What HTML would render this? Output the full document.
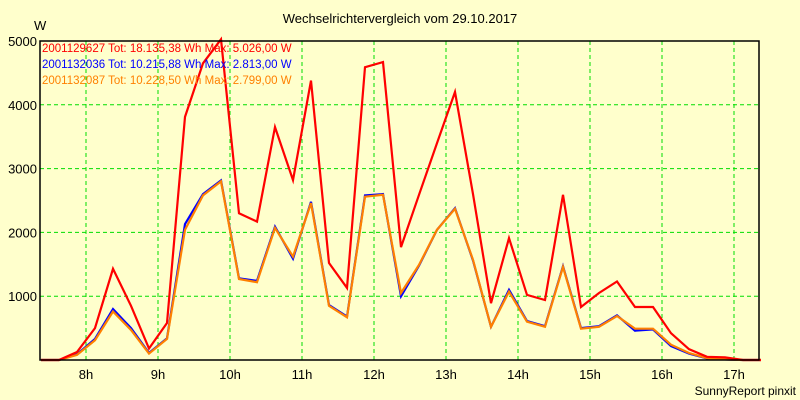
<!DOCTYPE html>
<html><head><meta charset="utf-8"><style>
body{margin:0;background:#ffffcc;}
svg{display:block;font-family:"Liberation Sans",sans-serif;}
</style></head><body>
<svg id="chart" width="800" height="400" viewBox="0 0 800 400">
<rect x="0" y="0" width="800" height="400" fill="#ffffcc"/>
<text x="400" y="23" font-size="13" text-anchor="middle" fill="#000">Wechselrichtervergleich vom 29.10.2017</text>
<text x="34" y="30" font-size="13" fill="#000">W</text>
<text x="796" y="395" font-size="12" text-anchor="end" fill="#000">SunnyReport pinxit</text>
<g id="grid"></g>
<g id="ticks"></g>
<g id="series"></g>
<rect x="40" y="41" width="719" height="319" fill="none" stroke="#000" stroke-width="1.5"/>
<g font-size="11.5">
<text x="42" y="52" fill="#ff0000">2001129627 Tot: 18.135,38 Wh Max: 5.026,00 W</text>
<text x="42" y="68" fill="#0000ff">2001132036 Tot: 10.215,88 Wh Max: 2.813,00 W</text>
<text x="42" y="84" fill="#ff8000">2001132087 Tot: 10.228,50 Wh Max: 2.799,00 W</text>
</g>
</svg>
<script>
const hourTicks = [8,9,10,11,12,13,14,15,16,17];
const yTicks = [1000,2000,3000,4000,5000];
const startHour = 7.375;
const stepHours = 0.25;
const redValues = [0,0,125,500,1430,850,180,580,3810,4650,5026,2300,2170,3650,2820,4380,1520,1130,4590,4670,1770,2590,3400,4200,2600,890,1910,1020,940,2590,830,1050,1230,830,830,420,170,50,40,0,0];
const blueValues = [0,0,90,330,800,500,110,340,2130,2600,2813,1280,1240,2090,1590,2480,860,680,2580,2600,1000,1480,2040,2380,1560,520,1100,610,530,1470,500,530,700,460,480,220,100,25,10,0,0];
const orangeValues = [0,0,80,310,760,470,100,330,2040,2580,2799,1270,1220,2070,1620,2460,850,670,2560,2590,1050,1490,2040,2370,1570,520,1070,600,520,1460,490,520,690,490,490,240,110,30,10,0,0];

const L=40,R=759,T=41,B=360;
const xOf = h => 86 + (h-8)*72;
const yOf = v => B - v*(B-T)/5000;
const NS="http://www.w3.org/2000/svg";
const grid=document.getElementById('grid'), ticks=document.getElementById('ticks'), series=document.getElementById('series');
function mk(tag, attrs){const e=document.createElementNS(NS,tag);for(const k in attrs)e.setAttribute(k,attrs[k]);return e;}
hourTicks.forEach(h=>{
  const x=xOf(h);
  const g=mk('line',{x1:x,x2:x,y1:T,y2:B,stroke:'#00dd00','stroke-width':1,'stroke-dasharray':'4,3'});
  
  
  grid.appendChild(g);
  const t=mk('text',{x:x,y:379,'font-size':13,'text-anchor':'middle',fill:'#000'});
  t.textContent=h+'h';
  
  
  ticks.appendChild(t);
});
yTicks.forEach(v=>{
  const y=yOf(v);
  const g=mk('line',{x1:L,x2:R,y1:y,y2:y,stroke:'#00dd00','stroke-width':1,'stroke-dasharray':'4,3'});
  
  
  grid.appendChild(g);
  const t=mk('text',{x:37,y:y+5,'font-size':13,'text-anchor':'end',fill:'#000'});
  t.textContent=v;
  
  
  ticks.appendChild(t);
});
function drawLine(vals,color,name){
  const pts=vals.map((v,i)=>xOf(startHour+i*stepHours).toFixed(1)+','+yOf(v).toFixed(1)).join(' ');
  const p=mk('polyline',{points:pts,fill:'none',stroke:color,'stroke-width':2.2,'stroke-linejoin':'miter'});
  
  
  series.appendChild(p);
}
drawLine(blueValues,'#0000ff','line-2001132036');
drawLine(orangeValues,'#ff8000','line-2001132087');
drawLine(redValues,'#ff0000','line-2001129627');
</script>
</body></html>
